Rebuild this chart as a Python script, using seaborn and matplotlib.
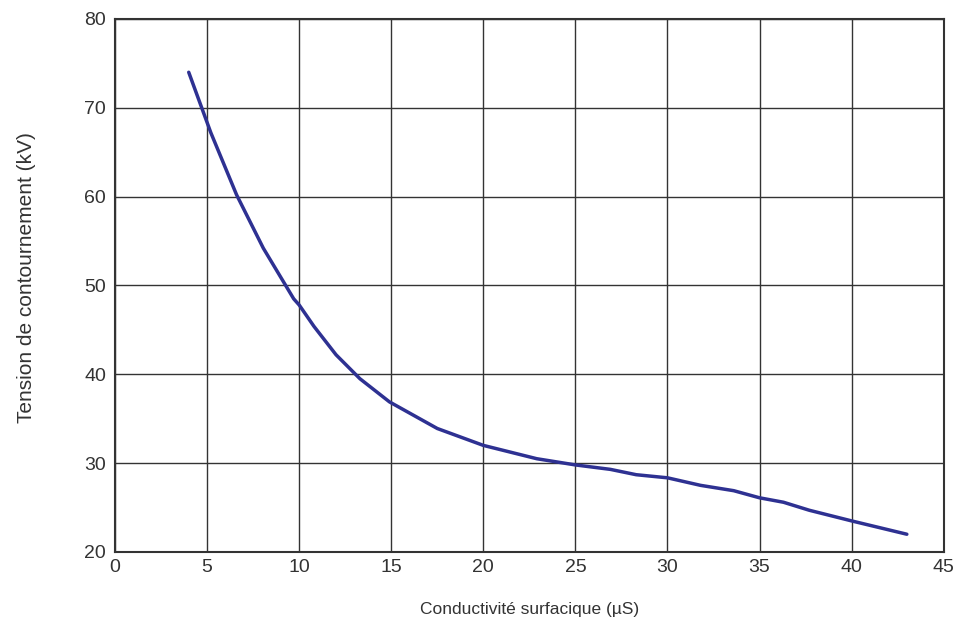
import pandas as pd
import matplotlib
matplotlib.use("Agg")
import matplotlib.pyplot as plt
import seaborn as sns

# Values
conductivite = [4.0, 5.2, 6.6, 8.05, 9.7, 10.0, 10.8, 12.0, 13.3, 14.9, 17.5, 20.0,
                22.9, 25.0, 26.9, 28.3, 30.0, 31.8, 33.6, 35.0, 36.3, 37.7, 40.0, 43.0]
tension = [74.0, 67.2, 60.2, 54.2, 48.5, 47.8, 45.4, 42.2, 39.5, 36.9, 33.9, 32.0,
           30.5, 29.8, 29.3, 28.7, 28.35, 27.5, 26.9, 26.1, 25.6, 24.7, 23.5, 22.0]

x_ticks = [0, 5, 10, 15, 20, 25, 30, 35, 40, 45]
y_ticks = [20, 30, 40, 50, 60, 70, 80]

df = pd.DataFrame({"conductivite": conductivite, "tension": tension})

sns.set_style("white")
plt.rcParams["font.family"] = ["Liberation Sans", "DejaVu Sans"]

fig = plt.figure(figsize=(9.59, 6.24), dpi=100)
ax = fig.add_axes([0.12, 0.1154, 0.864, 0.8542])

sns.lineplot(data=df, x="conductivite", y="tension", ax=ax, color="#2e3192",
             linewidth=2.5, sort=False, estimator=None)

ax.set_xlim(0, 45)
ax.set_ylim(20, 80)
ax.set_xticks(x_ticks)
ax.set_yticks(y_ticks)
ax.grid(True, color="#333333", linewidth=1.0)
ax.set_axisbelow(True)
for s in ax.spines.values():
    s.set_color("#333333")
    s.set_linewidth(1.5)

ax.tick_params(axis="both", labelsize=14, colors="#333333", length=3, width=1)
ax.tick_params(axis="x", length=0, pad=5)
ax.set_xlabel("Conductivité surfacique (µS)", fontsize=12.5, color="#333333", labelpad=19)
ax.set_ylabel("Tension de contournement (kV)", fontsize=15, color="#333333")
ax.yaxis.set_label_coords(-0.096, 0.514)

fig.savefig("out.png", dpi=100)
